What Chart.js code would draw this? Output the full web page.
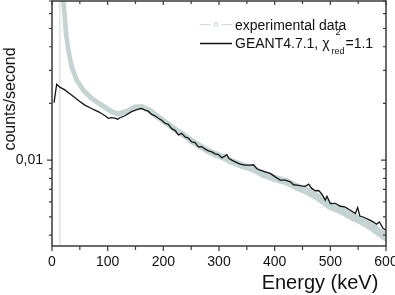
<!DOCTYPE html>
<html>
<head>
<meta charset="utf-8">
<script src="https://cdn.jsdelivr.net/npm/chart.js@4/dist/chart.umd.min.js"></script>
<style>
  html, body { margin: 0; padding: 0; background: #fff; overflow: hidden; }
  #wrap { width: 395px; height: 295px; }
</style>
</head>
<body>
<div id="wrap"><canvas id="c"></canvas></div>
<script>
// experimental spectrum (light grey band)
const expEnergy = [14, 14, 17, 20.5, 23.4, 25.2, 29.3, 35.3, 44, 56, 71, 89, 107, 119, 134, 149, 161,
  175, 190, 205, 220, 235, 250, 265, 280, 295, 310, 320, 340, 360, 380, 400, 420, 440, 460, 480,
  500, 520, 540, 560, 580, 600]
const expCounts = [0.0003, 0.5, 0.15, 0.07, 0.0555, 0.0472, 0.0385, 0.0314, 0.0267, 0.0236, 0.0213,
  0.0196, 0.0181, 0.0176, 0.0181, 0.0191, 0.0192, 0.0184, 0.0170, 0.0158, 0.0146, 0.0137, 0.0127,
  0.0119, 0.0112, 0.0107, 0.0103, 0.0099, 0.0094, 0.0090, 0.0084, 0.0080, 0.0077, 0.0072, 0.0068,
  0.0063, 0.0057, 0.0054, 0.0050, 0.0047, 0.0043, 0.0039]

// GEANT4 simulation (black line)
const simEnergy = [3.6, 8.4, 14, 23, 35, 47, 59, 71, 77, 83, 89, 98, 101, 107, 113, 118, 122, 131,
  143, 155, 161, 167, 173, 179, 185, 191, 197, 203, 209, 215, 221, 227, 233, 239, 245, 251, 257,
  263, 269, 275, 281, 287, 293, 299, 305, 308, 314, 318, 323, 329, 338, 347, 356, 362, 368, 374,
  383, 392, 401, 410, 419, 428, 434, 440, 448, 455, 461, 466, 473, 479, 485, 491, 494, 500, 509,
  518, 526, 536, 545, 549, 553, 559, 565, 571, 577, 583, 588, 595, 600]
const simCounts = [0.0202, 0.0253, 0.0244, 0.0236, 0.0222, 0.0208, 0.0196, 0.0188, 0.01845, 0.0181,
  0.0177, 0.0170, 0.01667, 0.0168, 0.0167, 0.0165, 0.0168, 0.0172, 0.0181, 0.01867, 0.0188,
  0.01845, 0.0182, 0.0175, 0.0172, 0.0167, 0.0163, 0.0157, 0.0155, 0.0147, 0.0144, 0.0136,
  0.0139, 0.0133, 0.0131, 0.0125, 0.0124, 0.01177, 0.0118, 0.01144, 0.0112, 0.01107, 0.0108,
  0.0107, 0.0103, 0.0104, 0.0107, 0.0102, 0.0100, 0.0098, 0.00952, 0.00941, 0.00941, 0.00945,
  0.0090, 0.00884, 0.00867, 0.00850, 0.00815, 0.00783, 0.00783, 0.00767, 0.0074, 0.00736, 0.0073,
  0.00727, 0.00745, 0.0071, 0.00688, 0.0069, 0.00659, 0.00613, 0.00643, 0.00588, 0.0059, 0.00569,
  0.00565, 0.00542, 0.00521, 0.0056, 0.00505, 0.00499, 0.0049, 0.0048, 0.0047, 0.00457, 0.0047,
  0.00433, 0.00424]

// ticks
const xTickValues = [0, 100, 200, 300, 400, 500, 600]
const xMinorTicks = [50, 150, 250, 350, 450, 550]
const yTickValues = [0.01]
const yMinorTicks = [0.004, 0.005, 0.006, 0.007, 0.008, 0.009, 0.02, 0.03, 0.04, 0.05, 0.06, 0.07]

const font = '"Liberation Sans", Arial, sans-serif'
const axisColor = '#3a3a3a'
const greyBand = 'rgb(198, 211, 211)'

function pairs(xs, ys) {
  return xs.map((x, i) => ({ x: x, y: ys[i] }))
}

// no extra room for the end labels, the frame sits where the reference has it
function noPadding(scale) {
  scale.paddingTop = 0
  scale.paddingBottom = 0
  scale.paddingLeft = 0
  scale.paddingRight = 0
}

// frame, tick marks, axis titles and legend
const decorations = {
  id: 'decorations',
  afterDraw(chart) {
    const { ctx, chartArea: a, scales: { x, y } } = chart
    ctx.save()
    ctx.strokeStyle = axisColor
    ctx.lineWidth = 1.5
    ctx.strokeRect(a.left, a.top, a.right - a.left, a.bottom - a.top)

    ctx.lineWidth = 1.2
    ctx.beginPath()
    const xTick = (v, len) => {
      const px = x.getPixelForValue(v)
      ctx.moveTo(px, a.bottom); ctx.lineTo(px, a.bottom + len)
      ctx.moveTo(px, a.top); ctx.lineTo(px, a.top + len - 1)
    }
    const yTick = (v, len) => {
      const py = y.getPixelForValue(v)
      ctx.moveTo(a.left, py); ctx.lineTo(a.left - len, py)
      ctx.moveTo(a.right, py); ctx.lineTo(a.right - len, py)
    }
    xTickValues.forEach(v => xTick(v, 5))
    xMinorTicks.forEach(v => xTick(v, 4))
    yTickValues.forEach(v => yTick(v, 5))
    yMinorTicks.forEach(v => yTick(v, 3))
    ctx.stroke()

    // axis titles
    ctx.fillStyle = '#111'
    ctx.font = '20px ' + font
    ctx.textAlign = 'center'
    ctx.textBaseline = 'alphabetic'
    ctx.fillText('Energy (keV)', 320, 289)

    ctx.save()
    ctx.translate(15, 99)
    ctx.rotate(-Math.PI / 2)
    ctx.font = '16px ' + font
    ctx.fillText('counts/second', 0, 0)
    ctx.restore()

    // legend
    ctx.textAlign = 'left'
    ctx.textBaseline = 'alphabetic'
    ctx.strokeStyle = 'rgb(205, 216, 216)'
    ctx.lineWidth = 1.2
    ctx.beginPath()
    ctx.moveTo(200, 24.5); ctx.lineTo(210, 24.5)
    ctx.moveTo(222, 24.5); ctx.lineTo(232, 24.5)
    ctx.stroke()
    ctx.beginPath()
    ctx.arc(216, 24.5, 1.8, 0, Math.PI * 2)
    ctx.stroke()

    ctx.strokeStyle = '#111'
    ctx.lineWidth = 1.5
    ctx.beginPath()
    ctx.moveTo(200, 43.5); ctx.lineTo(232, 43.5)
    ctx.stroke()

    ctx.font = '14px ' + font
    ctx.fillText('experimental data', 235, 30)
    const head = 'GEANT4.7.1, χ'
    ctx.fillText(head, 235, 48)
    const px = 235 + ctx.measureText(head).width + 2
    ctx.font = '9px ' + font
    const wRed = ctx.measureText('red').width
    ctx.fillText('red', px, 54)
    ctx.fillText('2', px + (wRed - ctx.measureText('2').width) / 2, 35)
    ctx.font = '14px ' + font
    ctx.fillText('=1.1', px + wRed + 1, 48)
    ctx.restore()
  }
}

new Chart(document.getElementById('c'), {
  type: 'line',
  data: {
    datasets: [
      {
        label: 'GEANT4.7.1',
        data: pairs(simEnergy, simCounts),
        borderColor: '#151515',
        borderWidth: 1.3,
        pointRadius: 0,
        tension: 0,
        clip: 0,
        order: 0
      },
      {
        label: 'experimental data',
        data: pairs(expEnergy, expCounts),
        borderColor: greyBand,
        backgroundColor: greyBand,
        borderCapStyle: 'round',
        borderJoinStyle: 'round',
        pointRadius: 0,
        tension: 0,
        clip: 0,
        order: 1,
        segment: {
          borderWidth: ctx => ctx.p0.parsed.x === ctx.p1.parsed.x ? 1.5 : 4.5 + ctx.p0.parsed.x / 600 * 4,
          borderColor: ctx => ctx.p0.parsed.x === ctx.p1.parsed.x ? 'rgb(218, 226, 226)' : greyBand
        }
      }
    ]
  },
  options: {
    responsive: true,
    maintainAspectRatio: false,
    animation: false,
    layout: { padding: { top: 1, right: 9, left: 0, bottom: 0 } },
    plugins: {
      legend: { display: false },
      tooltip: { enabled: false }
    },
    scales: {
      x: {
        type: 'linear',
        min: 0,
        max: 600,
        grid: { display: false, drawTicks: false },
        border: { display: false },
        afterBuildTicks: scale => { scale.ticks = xTickValues.map(v => ({ value: v })) },
        afterFit: scale => { scale.height = 49; noPadding(scale) },
        ticks: {
          padding: 8,
          maxRotation: 0,
          autoSkip: false,
          color: '#111',
          font: { size: 14, family: font }
        }
      },
      y: {
        type: 'logarithmic',
        min: 0.0035,
        max: 0.07,
        grid: { display: false, drawTicks: false },
        border: { display: false },
        afterBuildTicks: scale => { scale.ticks = yTickValues.map(v => ({ value: v })) },
        afterFit: scale => { scale.width = 52; noPadding(scale) },
        ticks: {
          padding: 9,
          color: '#111',
          font: { size: 14, family: font },
          callback: v => String(v).replace('.', ',')
        }
      }
    }
  },
  plugins: [decorations]
})
</script>
</body>
</html>
